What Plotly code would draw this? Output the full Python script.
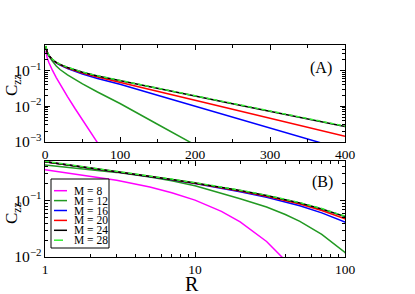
import plotly.graph_objects as go

# ---------------- data ----------------
R = [1, 2, 3, 5, 7, 10, 15, 20, 30, 40, 50, 70, 100, 150, 200, 250, 300, 350, 400]

C_M8 = [0.352, 0.2726, 0.2281, 0.173, 0.1376, 0.1015, 0.0643, 0.0420, 0.01882,
        0.00869, 0.00409, 0.000929, 0.000105]
C_M12 = [0.426, 0.3565, 0.3151, 0.2611, 0.2237, 0.1827, 0.1351, 0.1077, 0.0766,
         0.0566, 0.0427, 0.0252, 0.012, 0.00315, 0.00083, 0.000218]
C_M16 = [0.4869, 0.3778, 0.3244, 0.2663, 0.2323, 0.1996, 0.1657, 0.1435, 0.1143,
         0.0949, 0.0806, 0.0605, 0.0414, 0.02046, 0.0101, 0.00499, 0.002465,
         0.001217, 0.000601]
C_M20 = [0.487, 0.3788, 0.3257, 0.2681, 0.2345, 0.2024, 0.1692, 0.1475, 0.1191,
         0.1002, 0.0863, 0.0666, 0.0475, 0.02655, 0.01484, 0.0083, 0.00464,
         0.00259, 0.00145]
C_M24 = [0.488, 0.3795, 0.3266, 0.2693, 0.236, 0.2042, 0.1715, 0.1502, 0.1224,
         0.1039, 0.0903, 0.0709, 0.052, 0.0318, 0.0194, 0.01186, 0.00724,
         0.00442, 0.0027]
C_M28 = [0.495, 0.385, 0.3315, 0.2733, 0.2395, 0.2073, 0.1741, 0.1525, 0.1242,
         0.1055, 0.0917, 0.0721, 0.0529, 0.0324, 0.0198, 0.01213, 0.00743,
         0.00455, 0.00279]

series_names = ["M = 8", "M = 12", "M = 16", "M = 20", "M = 24", "M = 28"]
series_vals = [C_M8, C_M12, C_M16, C_M20, C_M24, C_M28]
colors = ["#FF00FF", "#229922", "#0000FF", "#FF0000", "#000000", "#33EE33"]
dashes = ["solid", "solid", "solid", "solid", "solid", "4px,3px"]

panel_labels = ["(A)", "(B)"]

# ---------------- layout constants ----------------
W, H = 415, 294
ML, MR, MT, MB = 45, 70, 45, 37
PW, PH = W - ML - MR, H - MT - MB
FONT = "Liberation Serif"


def px_x(px):
    return (px - ML) / PW


def px_y(py):
    return (H - MB - py) / PH


fig = go.Figure()
for name, vals, col, dash in zip(series_names, series_vals, colors, dashes):
    for ax in ("", "2"):
        fig.add_trace(go.Scatter(
            x=R[:len(vals)], y=vals, mode="lines", name=name,
            line=dict(color=col, width=1.5, dash=dash),
            xaxis="x" + ax, yaxis="y" + ax, showlegend=False,
            hoverinfo="skip"))

axis_common = dict(
    showline=True, linecolor="black", linewidth=1, mirror="allticks",
    ticks="inside", ticklen=5, tickcolor="black", showgrid=False,
    zeroline=False, tickfont=dict(family=FONT, size=13.5, color="black"),
)

fig.update_layout(
    width=W, height=H,
    margin=dict(l=ML, r=MR, t=MT, b=MB, pad=0),
    paper_bgcolor="white", plot_bgcolor="white",
    showlegend=False,
    xaxis=dict(domain=[0, 1], anchor="y", range=[0, 400], dtick=100,
               minor=dict(ticks="inside", ticklen=3, dtick=50, showgrid=False),
               **axis_common),
    yaxis=dict(domain=[px_y(142), 1], anchor="x", type="log",
               range=[-3, -0.28], dtick=1, exponentformat="power",
               minor=dict(ticks="inside", ticklen=3, showgrid=False),
               **{**axis_common,
                  "tickfont": dict(family=FONT, size=12.5, color="black")}),
    xaxis2=dict(domain=[0, 1], anchor="y2", type="log", range=[0, 2],
                dtick=1,
                minor=dict(ticks="inside", ticklen=3, showgrid=False),
                **axis_common),
    yaxis2=dict(domain=[0, px_y(161)], anchor="x2", type="log",
                range=[-2, -0.3], dtick=1, exponentformat="power",
                minor=dict(ticks="inside", ticklen=3, showgrid=False),
                **{**axis_common,
                   "tickfont": dict(family=FONT, size=12.5, color="black")}),
)

ann = []
# panel labels
ann.append(dict(text=panel_labels[0], x=px_x(321), y=px_y(68), xref="paper",
                yref="paper", showarrow=False, xanchor="center", yanchor="middle",
                font=dict(family=FONT, size=16, color="black")))
ann.append(dict(text=panel_labels[1], x=px_x(322), y=px_y(182), xref="paper",
                yref="paper", showarrow=False, xanchor="center", yanchor="middle",
                font=dict(family=FONT, size=16, color="black")))
# axis titles
for yc in (85, 213):
    ann.append(dict(text="C<sub>zz</sub>", x=px_x(13), y=px_y(yc), xref="paper",
                    yref="paper", showarrow=False, textangle=-90,
                    xanchor="center", yanchor="middle",
                    font=dict(family=FONT, size=17, color="black")))
ann.append(dict(text="R", x=px_x(192), y=px_y(284), xref="paper", yref="paper",
                showarrow=False, xanchor="center", yanchor="middle",
                font=dict(family=FONT, size=20, color="black")))

# custom legend (compact, like the original)
shapes = [dict(type="rect", xref="paper", yref="paper",
               x0=px_x(51), x1=px_x(109), y0=px_y(248), y1=px_y(179),
               line=dict(color="black", width=1), fillcolor="white", layer="above")]
row0, step = 190.7, 9.9
for i, (name, col, dash) in enumerate(zip(series_names, colors, dashes)):
    yy = px_y(row0 + i * step)
    shapes.append(dict(type="line", xref="paper", yref="paper",
                       x0=px_x(54), x1=px_x(67), y0=yy, y1=yy,
                       line=dict(color=col, width=1.5,
                                 dash="dash" if dash != "solid" else "solid"),
                       layer="above"))
    ann.append(dict(text=name, x=px_x(72), y=yy, xref="paper", yref="paper",
                    showarrow=False, xanchor="left", yanchor="middle",
                    font=dict(family=FONT, size=11.5, color="black")))

fig.update_layout(annotations=ann, shapes=shapes)
fig.write_html("out.html", config={"displayModeBar": False},
               post_script="document.body.style.margin='0px';"
                           "document.body.style.padding='0px';")
